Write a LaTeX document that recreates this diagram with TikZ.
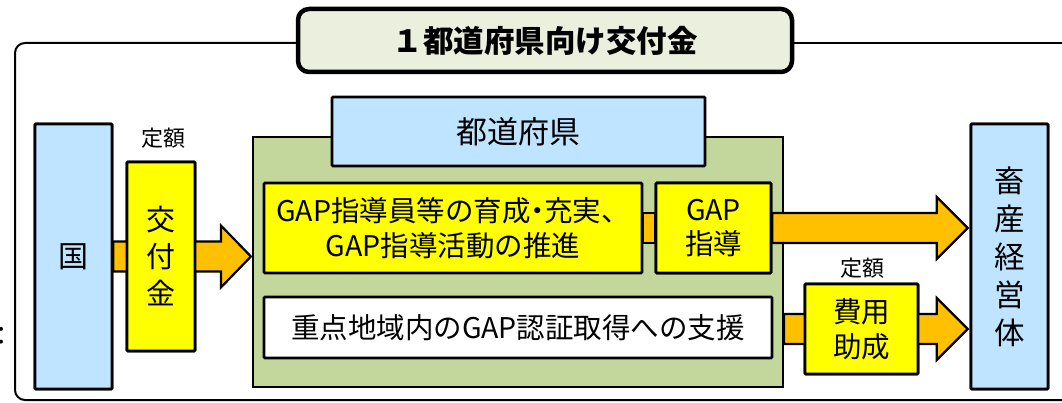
\documentclass[tikz,border=0pt]{standalone}
\usepackage{fontspec}
\setmainfont{Noto Sans CJK JP}
\usetikzlibrary{calc}
\definecolor{lblue}{RGB}{191,228,255}
\definecolor{lgreen}{RGB}{195,214,155}
\definecolor{tfill}{RGB}{235,240,222}
\definecolor{orng}{RGB}{255,192,0}
\definecolor{yel}{RGB}{255,255,0}
\newcommand\myarrow[3]{%
  \draw[barrow] let \p1=(#1), \p2=(#2) in
    (\x1,\y2+15pt) -- (\x2-#3,\y2+15pt) -- (\x2-#3,\y2+31pt) -- (\x2,\y2)
    -- (\x2-#3,\y2-31pt) -- (\x2-#3,\y2-15pt) -- (\x1,\y2-15pt) -- cycle;}
\tikzset{
  box/.style={draw=black, line width=2.6pt, rounded corners=1pt, inner sep=0pt, align=center},
  bluebox/.style={box, fill=lblue},
  yelbox/.style={box, fill=yel},
  barrow/.style={draw=black, line width=2.2pt, fill=orng, line join=miter},
  lbl/.style={inner sep=0pt, font=\fontsize{22}{24}\selectfont},
}
\begin{document}
\begin{tikzpicture}[x=1pt,y=-1pt]
\useasboundingbox (0,0) rectangle (1062,403);
\clip (0,0) rectangle (1062,403);
% outer frame
\draw[line width=2pt, rounded corners=10pt] (300,43) -- (15,43) -- (15,400) -- (1090,400);
\draw[line width=2pt] (790,43) -- (1070,43);
% title
\node[draw=black, line width=4.5pt, fill=tfill, rounded corners=11pt, minimum width=494, minimum height=63,
  font=\fontsize{30.5}{32}\selectfont\bfseries] (title) at (545,40.5) {１都道府県向け交付金};
% fragment at left edge
\node[inner sep=0pt, font=\fontsize{26}{26}\selectfont] (frag) at (2,336) {：};
% green prefecture area
\node[draw=black, line width=2.2pt, fill=lgreen, minimum width=530, minimum height=250] (green) at (518,262) {};
% nodes
\node[bluebox, minimum width=77, minimum height=265] (kuni) at (73.5,256.5) {};
\node[yelbox, minimum width=68, minimum height=189] (koufu) at (161,256.5) {};
\node[lbl] (tei1) at (163,138) {定額};
% arrow from kuni through koufu to green
\coordinate (tip1) at ($(green.west |- kuni.east)+(-1,0)$);
\myarrow{kuni.east}{tip1}{30pt}
\node[bluebox, minimum width=77, minimum height=265, font=\fontsize{30}{32}\selectfont] at (kuni) {国};
\node[yelbox, minimum width=68, minimum height=189, font=\fontsize{29}{37}\selectfont] at (koufu) {交\\付\\金};
\node[bluebox, minimum width=373, minimum height=69, font=\fontsize{31}{33}\selectfont] (pref) at (518.5,131.5) {都道府県};
\node[yelbox, minimum width=378, minimum height=90, font=\fontsize{28.5}{35}\selectfont] (y1) at (453,228)
  {GAP指導員等の育成\kern-7.5pt・\kern-7.5pt充実、\\GAP指導活動の推進};
\node[yelbox, minimum width=115, minimum height=90, font=\fontsize{28.5}{34}\selectfont] (gap) at (713.5,228) {GAP\\指導};
\draw[barrow] ($(y1.east)+(0,-15)$) rectangle ($(gap.west)+(0,15)$);
\node[yelbox, minimum width=115, minimum height=90, font=\fontsize{28.5}{34}\selectfont] at (gap) {GAP\\指導};
\node[box, fill=white, minimum width=508, minimum height=61, font=\fontsize{28.5}{32}\selectfont] (white) at (518,327.5)
  {重点地域内のGAP認証取得への支援};
\node[bluebox, minimum width=77, minimum height=265] (chiku) at (1009.5,256.5) {};
\node[yelbox, minimum width=113, minimum height=90] (hiyou) at (861.5,329) {};
% arrows to chiku
\coordinate (tip2) at ($(chiku.west |- gap.east)+(-2,0)$);
\myarrow{gap.east}{tip2}{31pt}
\coordinate (tip3) at ($(chiku.west |- hiyou.east)+(-2,0)$);
\myarrow{green.east}{tip3}{31pt}
\node[yelbox, minimum width=113, minimum height=90, font=\fontsize{28.5}{35}\selectfont] at (hiyou) {費用\\助成};
\node[lbl] (tei2) at (862,268) {定額};
\node[bluebox, minimum width=77, minimum height=265, font=\fontsize{30.5}{38}\selectfont] at (chiku) {畜\\産\\経\\営\\体};
\end{tikzpicture}
\end{document}
